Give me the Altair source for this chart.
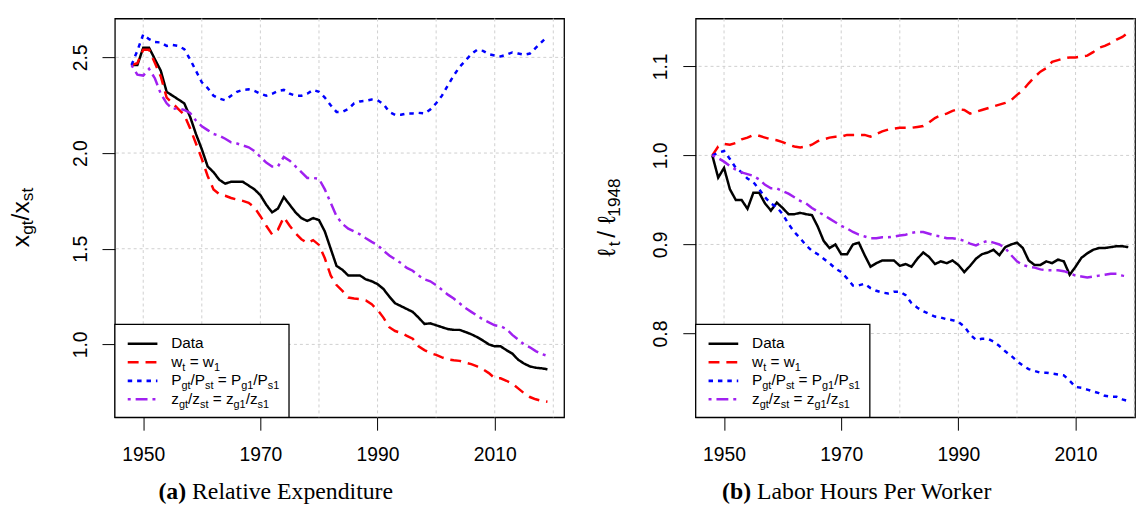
import altair as alt
import pandas as pd

YEARS = list(range(1948, 2020))
SERIES = ["Data", "w", "P", "z"]
COLORS = ["#000000", "#FF0000", "#0000FF", "#A020F0"]
DASHES = [[1, 0], [11, 7], [4.5, 5], [3, 5, 12, 5]]
WIDTHS = [2.5, 2.5, 2.8, 2.5]

# ---- (a) Relative expenditure x_gt / x_st ----
exp_data = [2.46, 2.46,
            2.55, 2.55, 2.49, 2.43, 2.32, 2.30, 2.28, 2.26, 2.19, 2.10,
            2.02, 1.93, 1.90, 1.86, 1.84, 1.85, 1.85, 1.85, 1.83, 1.81,
            1.78, 1.73, 1.69, 1.71, 1.77, 1.73, 1.69, 1.66, 1.645, 1.66,
            1.65, 1.59, 1.50, 1.41, 1.39, 1.36, 1.36, 1.36, 1.34, 1.33,
            1.315, 1.29, 1.25, 1.215, 1.20, 1.185, 1.17, 1.14, 1.107, 1.11,
            1.10, 1.09, 1.08, 1.076, 1.076, 1.065, 1.053, 1.038, 1.02, 1.0,
            0.99, 0.99, 0.97, 0.952, 0.92, 0.90, 0.885, 0.878, 0.875, 0.87]
exp_w = [2.46, 2.47,
         2.54, 2.54, 2.47, 2.40, 2.29, 2.26, 2.23, 2.20, 2.13, 2.05,
         1.97, 1.88, 1.81, 1.785, 1.777, 1.765, 1.757, 1.75, 1.74, 1.715,
         1.67, 1.62, 1.575, 1.60, 1.665, 1.62, 1.58, 1.55, 1.53, 1.545,
         1.52, 1.45, 1.36, 1.31, 1.28, 1.245, 1.24, 1.237, 1.23, 1.21,
         1.18, 1.14, 1.09, 1.07, 1.06, 1.045, 1.03, 0.99, 0.97, 0.955,
         0.945, 0.932, 0.922, 0.917, 0.914, 0.905, 0.897, 0.885, 0.87, 0.85,
         0.823, 0.823, 0.81, 0.795, 0.77, 0.745, 0.725, 0.713, 0.705, 0.70]
exp_p = [2.46, 2.535,
         2.62, 2.595, 2.58, 2.578, 2.56, 2.565, 2.56, 2.543, 2.49, 2.43,
         2.37, 2.34, 2.30, 2.285, 2.276, 2.30, 2.32, 2.33, 2.333, 2.325,
         2.31, 2.30, 2.31, 2.325, 2.33, 2.31, 2.30, 2.30, 2.31, 2.33,
         2.32, 2.29, 2.25, 2.215, 2.215, 2.23, 2.26, 2.27, 2.273, 2.28,
         2.276, 2.256, 2.215, 2.20, 2.20, 2.207, 2.207, 2.21, 2.207, 2.228,
         2.26, 2.30, 2.354, 2.405, 2.45, 2.483, 2.517, 2.54, 2.534, 2.517,
         2.51, 2.505, 2.514, 2.526, 2.52, 2.514, 2.52, 2.55, 2.58, 2.61]
exp_z = [2.46, 2.41,
         2.405, 2.44, 2.39, 2.31, 2.26, 2.23, 2.235, 2.225, 2.21, 2.17,
         2.14, 2.12, 2.10, 2.09, 2.075, 2.056, 2.05, 2.04, 2.03, 2.01,
         1.98, 1.95, 1.93, 1.93, 1.98, 1.96, 1.93, 1.90, 1.87, 1.87,
         1.865, 1.81, 1.74, 1.67, 1.63, 1.605, 1.59, 1.575, 1.555, 1.536,
         1.52, 1.49, 1.465, 1.445, 1.425, 1.40, 1.385, 1.36, 1.34, 1.33,
         1.31, 1.285, 1.26, 1.24, 1.215, 1.19, 1.17, 1.15, 1.13, 1.115,
         1.10, 1.095, 1.08, 1.05, 1.025, 1.0, 0.985, 0.965, 0.95, 0.94]

# ---- (b) Labor hours per worker l_t / l_1948 ----
hrs_data = [1.0, 0.975,
            0.986, 0.962, 0.950, 0.950, 0.940, 0.958, 0.958, 0.946, 0.938, 0.947,
            0.941, 0.934, 0.934, 0.9355, 0.934, 0.933, 0.92, 0.904, 0.896, 0.90,
            0.889, 0.889, 0.90, 0.902, 0.888, 0.875, 0.879, 0.882, 0.882, 0.882,
            0.876, 0.878, 0.875, 0.884, 0.891, 0.886, 0.878, 0.881, 0.879, 0.882,
            0.877, 0.869, 0.876, 0.884, 0.889, 0.891, 0.894, 0.888, 0.897, 0.900,
            0.902, 0.896, 0.882, 0.877, 0.877, 0.881, 0.879, 0.883, 0.881, 0.866,
            0.875, 0.885, 0.89, 0.894, 0.896, 0.896, 0.897, 0.898, 0.898, 0.897]
hrs_w = [1.0, 1.010,
         1.013, 1.012, 1.014, 1.018, 1.02, 1.023, 1.022, 1.02, 1.018, 1.017,
         1.015, 1.012, 1.01, 1.009, 1.01, 1.012, 1.016, 1.018, 1.02, 1.021,
         1.021, 1.023, 1.023, 1.023, 1.023, 1.021, 1.024, 1.027, 1.029, 1.03,
         1.031, 1.031, 1.031, 1.032, 1.033, 1.037, 1.042, 1.045, 1.047, 1.05,
         1.052, 1.051, 1.047, 1.049, 1.051, 1.053, 1.055, 1.057, 1.059, 1.062,
         1.068, 1.073, 1.081, 1.088, 1.094, 1.098, 1.105, 1.107, 1.109, 1.11,
         1.11, 1.111, 1.112, 1.116, 1.121, 1.123, 1.126, 1.13, 1.133, 1.138]
hrs_p = [1.0, 1.003,
         1.005, 0.996, 0.986, 0.981, 0.974, 0.97, 0.962, 0.953, 0.946, 0.942,
         0.934, 0.923, 0.914, 0.907, 0.899, 0.893, 0.889, 0.884, 0.879, 0.873,
         0.869, 0.862, 0.854, 0.854, 0.856, 0.851, 0.848, 0.846, 0.845, 0.847,
         0.847, 0.843, 0.834, 0.829, 0.825, 0.822, 0.819, 0.818, 0.816, 0.815,
         0.813, 0.808, 0.799, 0.793, 0.794, 0.794, 0.791, 0.786, 0.780, 0.775,
         0.769, 0.764, 0.76, 0.758, 0.756, 0.756, 0.755, 0.754, 0.753, 0.747,
         0.74, 0.739, 0.737, 0.735, 0.733, 0.73, 0.729, 0.729, 0.726, 0.724]
hrs_z = [1.0, 0.997,
         0.993, 0.988, 0.984, 0.981, 0.979, 0.977, 0.973, 0.967, 0.963, 0.963,
         0.96, 0.957, 0.953, 0.949, 0.946, 0.941, 0.937, 0.933, 0.929, 0.925,
         0.921, 0.918, 0.914, 0.911, 0.909, 0.907, 0.907, 0.908, 0.908, 0.909,
         0.910, 0.911, 0.913, 0.914, 0.914, 0.912, 0.91, 0.909, 0.907, 0.907,
         0.906, 0.904, 0.901, 0.899, 0.902, 0.904, 0.902, 0.9, 0.896, 0.888,
         0.881, 0.877, 0.875, 0.874, 0.872, 0.871, 0.871, 0.871, 0.87, 0.868,
         0.865, 0.864, 0.863, 0.864, 0.865, 0.866, 0.867, 0.867, 0.865, 0.864]

X_TICKS = [1950, 1970, 1990, 2010]
X_GRID = [1950, 1960, 1970, 1980, 1990, 2000, 2010, 2020]
LEFT_Y_TICKS = [1.0, 1.5, 2.0, 2.5]
RIGHT_Y_TICKS = [0.8, 0.9, 1.0, 1.1]

ONE = pd.DataFrame({"k": [0]})
FONT = "Liberation Sans"
W_ARIAL = {"D": 722, "a": 556, "t": 278, "w": 722, "=": 584, "1": 556, "P": 667,
           "g": 556, "s": 500, "/": 278, "z": 500, "x": 500, "9": 556, "4": 556,
           "8": 556, "\u2113": 420}


def tw(s, size, space=278):
    return sum((space if c == " " else W_ARIAL.get(c, 556)) for c in s) * size / 1000.0


def rich(segs, x0, y0, main, sub, shift, angle=0, space=278):
    layers = []
    cur = 0.0
    for text, is_sub in segs:
        size = sub if is_sub else main
        body = text.strip(" ")
        lead = tw(text[: len(text) - len(text.lstrip(" "))], size, space)
        if body:
            off = cur + lead
            dy = shift if is_sub else 0
            if angle == 0:
                x, y = x0 + off, y0 + dy
            else:
                x, y = x0 + dy, y0 - off
            layers.append(
                alt.Chart(ONE).mark_text(text=body, font=FONT, fontSize=size, align="left",
                                         baseline="alphabetic", angle=angle, color="black")
                .encode(x=alt.value(x), y=alt.value(y)))
        cur += tw(text, size, space)
    return layers


def seg_len(segs, main, sub, space):
    return sum(tw(t, sub if s else main, space) for t, s in segs)


LEGEND_ROWS = [
    [("Data", False)],
    [("w", False), ("t", True), (" = w", False), ("1", True)],
    [("P", False), ("gt", True), ("/P", False), ("st", True), (" = P", False), ("g1", True),
     ("/P", False), ("s1", True)],
    [("z", False), ("gt", True), ("/z", False), ("st", True), (" = z", False), ("g1", True),
     ("/z", False), ("s1", True)],
]


def long_df(cols):
    rows = []
    for name, vals in zip(SERIES, cols):
        for yr, v in zip(YEARS, vals):
            rows.append({"year": yr, "value": v, "series": name})
    return pd.DataFrame(rows)


def panel(cols, xdom, ydom, yticks, width, title_segs, title_x, title_shift, title_space,
          cap_bold, cap_rest, cap_split):
    height = 403
    xs = alt.Scale(domain=xdom, nice=False, zero=False)
    ys = alt.Scale(domain=ydom, nice=False, zero=False)
    xaxis = alt.Axis(values=X_TICKS, format="d", title=None, grid=False, domain=False,
                     tickSize=13, tickColor="black", tickWidth=1, labelFont=FONT,
                     labelFontSize=19.5, labelColor="black", labelPadding=16, labelFlush=False)
    yaxis = alt.Axis(values=yticks, format=".1f", title=None, grid=False, domain=False,
                     tickSize=13, tickColor="black", tickWidth=1, labelFont=FONT,
                     labelFontSize=19.5, labelColor="black", labelAngle=270,
                     labelAlign="center", labelBaseline="alphabetic", labelPadding=16,
                     minExtent=106, maxExtent=106)
    gridstyle = dict(color="#CFCFCF", strokeDash=[3, 3], strokeWidth=1)
    vgrid = alt.Chart(pd.DataFrame({"year": X_GRID})).mark_rule(**gridstyle).encode(
        x=alt.X("year:Q", scale=xs, axis=xaxis))
    hgrid = alt.Chart(pd.DataFrame({"value": yticks})).mark_rule(**gridstyle).encode(
        y=alt.Y("value:Q", scale=ys, axis=yaxis))
    lines = alt.Chart(long_df(cols)).mark_line(clip=True).encode(
        x=alt.X("year:Q", scale=xs, axis=xaxis),
        y=alt.Y("value:Q", scale=ys, axis=yaxis),
        color=alt.Color("series:N", scale=alt.Scale(domain=SERIES, range=COLORS), legend=None),
        strokeDash=alt.StrokeDash("series:N", scale=alt.Scale(domain=SERIES, range=DASHES),
                                  legend=None),
        strokeWidth=alt.StrokeWidth("series:N", scale=alt.Scale(domain=SERIES, range=WIDTHS),
                                    legend=None),
    )
    layers = [vgrid, hgrid, lines]
    # legend box
    layers.append(alt.Chart(ONE).mark_rect(fill="white", stroke="black", strokeWidth=1.3).encode(
        x=alt.value(0), x2=alt.value(176), y=alt.value(309), y2=alt.value(403)))
    baselines = [333.3, 352.0, 370.7, 389.3]
    for i, segs in enumerate(LEGEND_ROWS):
        ly = baselines[i] - 4.6
        layers.append(alt.Chart(ONE).mark_rule(color=COLORS[i], strokeDash=DASHES[i],
                                               strokeWidth=WIDTHS[i]).encode(
            x=alt.value(13), x2=alt.value(43), y=alt.value(ly)))
        layers += rich(segs, 57, baselines[i], 15.5, 11, 4)
    # y title (rotated, with subscripts)
    tmain, tsub = 25, 17.5
    total = seg_len(title_segs, tmain, tsub, title_space)
    layers += rich(title_segs, title_x, 201 + total / 2, tmain, tsub, title_shift, angle=270,
                   space=title_space)
    # caption
    layers.append(alt.Chart(ONE).mark_text(text=cap_bold, font="Liberation Serif", fontSize=24,
                                           fontWeight="bold", align="right",
                                           baseline="alphabetic", color="black").encode(
        x=alt.value(cap_split), y=alt.value(486)))
    layers.append(alt.Chart(ONE).mark_text(text=cap_rest, font="Liberation Serif", fontSize=24,
                                           align="left", baseline="alphabetic",
                                           color="black").encode(
        x=alt.value(cap_split + 6), y=alt.value(486)))
    return alt.layer(*layers).properties(width=width, height=height)


left = panel([exp_data, exp_w, exp_p, exp_z], [1945.16, 2021.84], [0.619, 2.703], LEFT_Y_TICKS,
             454, [("x", False), ("gt", True), ("/x", False), ("st", True)], -87, 4, 278,
             "(a)", "Relative Expenditure", 72)
right = panel([hrs_data, hrs_w, hrs_p, hrs_z], [1945.16, 2020.15], [0.7059, 1.1537],
              RIGHT_Y_TICKS, 444,
              [("\u2113", False), ("t", True), (" / \u2113", False), ("1948", True)], -82, 5, 150,
              "(b)", "Labor Hours Per Worker", 56)

chart = alt.hconcat(left, right, spacing=24).properties(
    padding={"left": 0, "top": 6, "right": 0, "bottom": 0},
    background="white",
).configure_view(stroke="black", strokeWidth=1.3)

chart.save("out.html", embed_options={"renderer": "svg", "actions": False})
